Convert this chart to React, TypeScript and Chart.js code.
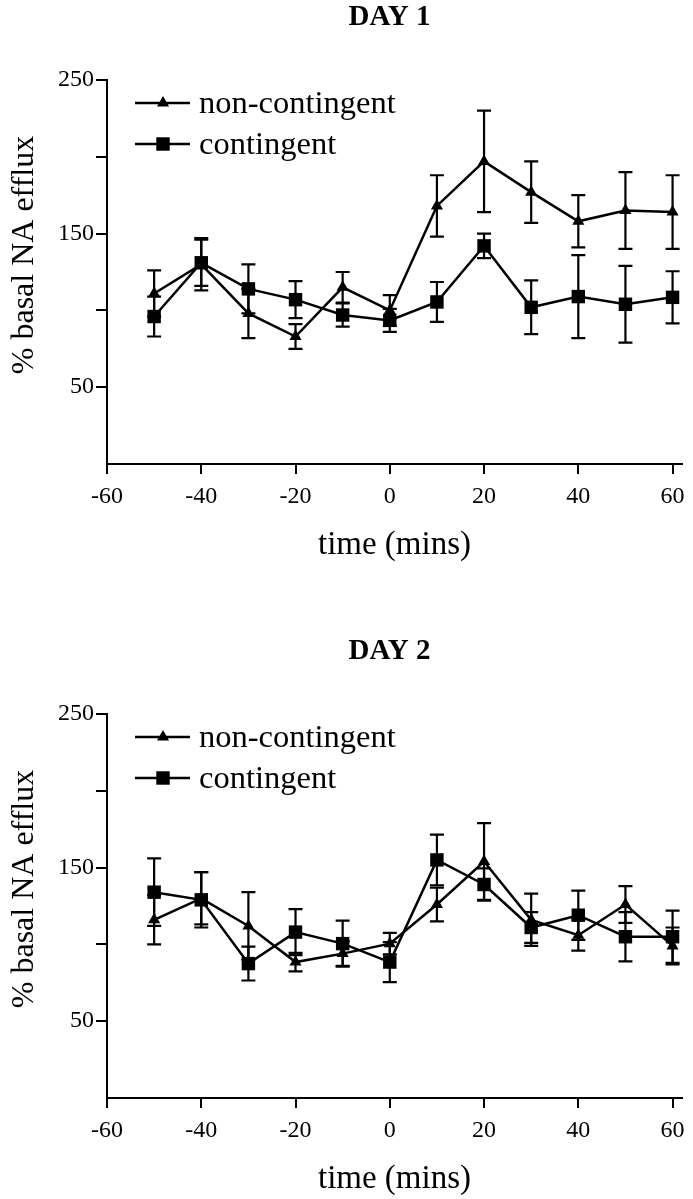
import React, { useEffect, useRef } from "react";
import { Chart, registerables } from "chart.js";

Chart.register(...registerables);

// ---- data ----
const times = [-50, -40, -30, -20, -10, 0, 10, 20, 30, 40, 50, 60];

const day1NonContingent = [111, 130, 98, 83, 115, 100, 168, 197, 177, 158, 165, 164];
const day1NonContingentErr = [15, 17, 16, 8, 10, 10, 20, 33, 20, 17, 25, 24];
const day1Contingent = [96, 131, 114, 107, 97, 93.5, 105.5, 142, 102, 109, 104, 108.5];
const day1ContingentErr = [13, 15, 16, 12, 7.5, 7.5, 13, 8, 17.5, 27, 25, 17];

const day2NonContingent = [116, 130, 112, 88.5, 94, 100.5, 126, 154, 116, 106, 126, 99];
const day2NonContingentErr = [16, 17, 22, 6, 8, 7, 11, 25, 17, 10, 12, 12];
const day2Contingent = [134, 129, 87.5, 108, 100.5, 88.5, 155, 139, 111, 119, 105, 105];
const day2ContingentErr = [22, 18, 11, 15, 15, 13, 16.5, 10.5, 10, 16, 16, 17];

const xTickValues = [-60, -40, -20, 0, 20, 40, 60];
const yTickValues = [0, 50, 100, 150, 200, 250];
const yLabelValues = [50, 150, 250];

const seriesNames = ["non-contingent", "contingent"];
const xTitle = "time (mins)";
const yTitle = "% basal NA efflux";

const FONT = '"Liberation Serif", "Times New Roman", serif';

const errorBarPlugin = {
  id: "errorBars",
  beforeDatasetsDraw(chart: any) {
    const ctx = chart.ctx;
    const yScale = chart.scales.y;
    ctx.save();
    ctx.strokeStyle = "#000";
    ctx.lineWidth = 2.2;
    chart.data.datasets.forEach((ds: any, i: number) => {
      const meta = chart.getDatasetMeta(i);
      meta.data.forEach((pt: any, j: number) => {
        const v = ds.data[j].y;
        const e = ds.errors[j];
        const yt = yScale.getPixelForValue(v + e);
        const yb = yScale.getPixelForValue(v - e);
        const x = pt.x;
        ctx.beginPath();
        ctx.moveTo(x, yt);
        ctx.lineTo(x, yb);
        ctx.moveTo(x - 7, yt);
        ctx.lineTo(x + 7, yt);
        ctx.moveTo(x - 7, yb);
        ctx.lineTo(x + 7, yb);
        ctx.stroke();
      });
    });
    ctx.restore();
  },
};

function drawMarker(ctx: CanvasRenderingContext2D, style: string, x: number, y: number, r: number) {
  ctx.beginPath();
  if (style === "triangle") {
    const w = r * Math.sin(Math.PI / 3);
    ctx.moveTo(x, y - r);
    ctx.lineTo(x + w, y + r / 2);
    ctx.lineTo(x - w, y + r / 2);
    ctx.closePath();
  } else {
    const s = r * Math.SQRT1_2;
    ctx.rect(x - s, y - s, 2 * s, 2 * s);
  }
  ctx.fill();
}

const titleLegendPlugin = {
  id: "titleLegend",
  afterDraw(chart: any) {
    const ctx = chart.ctx;
    const area = chart.chartArea;
    const opts = chart.options.plugins.titleLegend;
    ctx.save();
    ctx.fillStyle = "#000";
    ctx.strokeStyle = "#000";
    // panel title
    ctx.font = `bold 29px ${FONT}`;
    ctx.textAlign = "center";
    ctx.textBaseline = "middle";
    ctx.fillText(opts.title, (area.left + area.right) / 2 - 5, 18);

    // y-axis title
    ctx.save();
    ctx.translate(25, (area.top + area.bottom) / 2 - 17);
    ctx.rotate(-Math.PI / 2);
    ctx.font = `32px ${FONT}`;
    ctx.fillText(opts.yTitle, 0, 0);
    ctx.restore();

    // legend
    ctx.font = `32.5px ${FONT}`;
    ctx.textAlign = "left";
    chart.data.datasets.forEach((ds: any, i: number) => {
      const y = area.top + 23 + i * 41;
      ctx.lineWidth = 2.5;
      ctx.beginPath();
      ctx.moveTo(area.left + 28, y);
      ctx.lineTo(area.left + 83, y);
      ctx.stroke();
      drawMarker(ctx, ds.pointStyle, area.left + 56, y, ds.pointRadius);
      ctx.fillText(ds.label, area.left + 92, y + 1);
    });
    ctx.restore();
  },
};

function makeConfig(title: string, nc: number[], ncErr: number[], c: number[], cErr: number[]): any {
  return {
    type: "line",
    data: {
      datasets: [
        {
          label: seriesNames[0],
          data: times.map((t, i) => ({ x: t, y: nc[i] })),
          errors: ncErr,
          borderColor: "#000",
          backgroundColor: "#000",
          borderWidth: 2.5,
          pointStyle: "triangle",
          pointRadius: 7,
          pointBorderWidth: 0,
          tension: 0,
        },
        {
          label: seriesNames[1],
          data: times.map((t, i) => ({ x: t, y: c[i] })),
          errors: cErr,
          borderColor: "#000",
          backgroundColor: "#000",
          borderWidth: 2.5,
          pointStyle: "rect",
          pointRadius: 9.5,
          pointBorderWidth: 0,
          tension: 0,
        },
      ],
    },
    options: {
      animation: false,
      responsive: false,
      layout: { padding: { top: 80, right: 11, left: 0, bottom: 0 } },
      plugins: {
        legend: { display: false },
        tooltip: { enabled: false },
        titleLegend: { title, yTitle },
      },
      scales: {
        x: {
          type: "linear",
          min: -60,
          max: 62,
          afterBuildTicks: (s: any) => {
            s.ticks = xTickValues.map((v) => ({ value: v }));
          },
          afterFit: (s: any) => {
            s.height = 101;
          },
          border: { display: true, color: "#000", width: 2 },
          grid: {
            display: true,
            drawOnChartArea: false,
            drawTicks: true,
            tickLength: 10,
            color: "#000",
            lineWidth: 2,
          },
          ticks: {
            color: "#000",
            font: { family: FONT, size: 24 },
            padding: 8,
            maxRotation: 0,
            autoSkip: false,
          },
          title: {
            display: true,
            text: xTitle,
            color: "#000",
            font: { family: FONT, size: 33 },
            padding: { top: 0, bottom: 0 },
          },
        },
        y: {
          type: "linear",
          min: 0,
          max: 250,
          afterBuildTicks: (s: any) => {
            s.ticks = yTickValues.map((v) => ({ value: v }));
          },
          afterFit: (s: any) => {
            s.width = 107;
          },
          border: { display: true, color: "#000", width: 2 },
          grid: {
            display: true,
            drawOnChartArea: false,
            drawTicks: true,
            tickLength: 11,
            color: (ctx: any) => (ctx.tick && ctx.tick.value === 0 ? "rgba(0,0,0,0)" : "#000"),
            lineWidth: 2,
          },
          ticks: {
            color: "#000",
            font: { family: FONT, size: 24 },
            padding: 2,
            autoSkip: false,
            callback: (v: any) => (yLabelValues.includes(Number(v)) ? String(v) : ""),
          },
          title: { display: false },
        },
      },
    },
    plugins: [errorBarPlugin, titleLegendPlugin],
  };
}

function Panel(props: { top: number; title: string; nc: number[]; ncErr: number[]; c: number[]; cErr: number[] }) {
  const ref = useRef<HTMLCanvasElement | null>(null);
  useEffect(() => {
    if (!ref.current) return;
    const chart = new Chart(ref.current, makeConfig(props.title, props.nc, props.ncErr, props.c, props.cErr));
    return () => chart.destroy();
  }, []);
  return (
    <canvas
      ref={ref}
      width={693}
      height={565}
      style={{ position: "absolute", left: 0, top: props.top, width: 693, height: 565 }}
    />
  );
}

export default function App() {
  return (
    <div style={{ position: "absolute", left: 0, top: 0, width: 693, height: 1199, background: "#fff" }}>
      <Panel top={0} title="DAY 1" nc={day1NonContingent} ncErr={day1NonContingentErr} c={day1Contingent} cErr={day1ContingentErr} />
      <Panel top={634} title="DAY 2" nc={day2NonContingent} ncErr={day2NonContingentErr} c={day2Contingent} cErr={day2ContingentErr} />
    </div>
  );
}
